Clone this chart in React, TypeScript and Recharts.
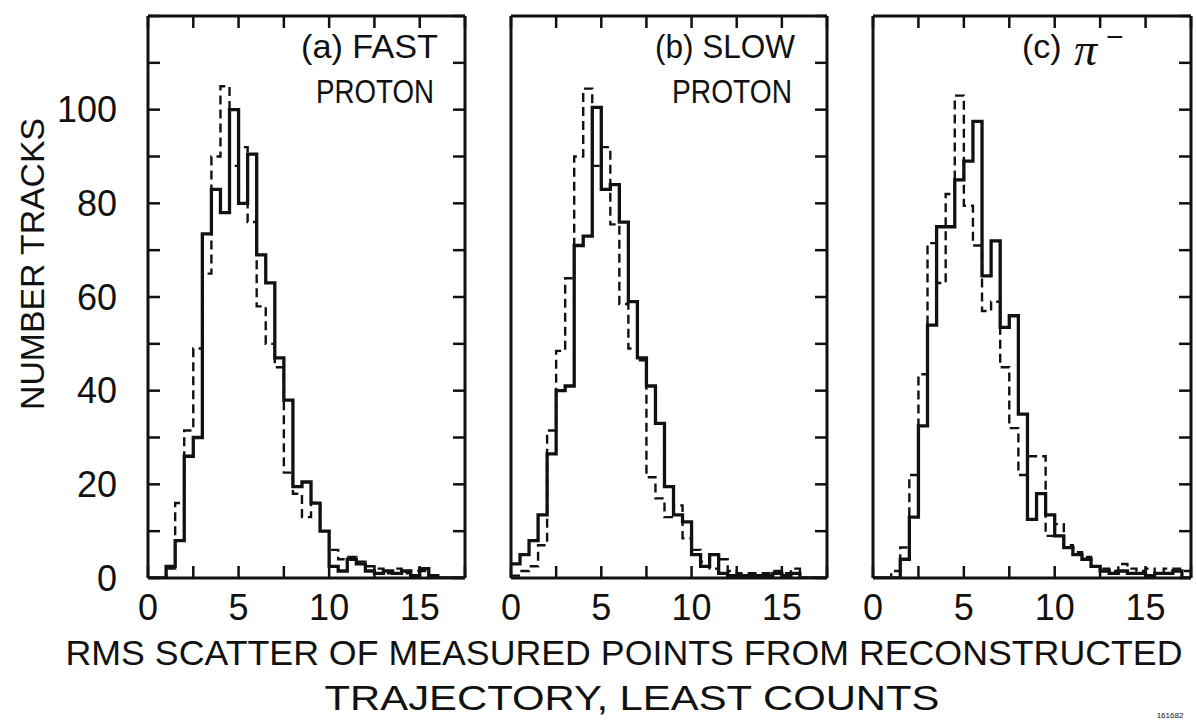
import { ComposedChart, Line, XAxis, YAxis } from "recharts";

// Three step histograms of RMS scatter (least counts), solid vs dashed sample.
const FONT = '"Liberation Sans", Arial, sans-serif';
const INK = "#111";

const BIN_EDGE = [
  0, 0.5, 1, 1.5, 2, 2.5, 3, 3.5, 4, 4.5, 5, 5.5, 6, 6.5, 7, 7.5, 8, 8.5,
  9, 9.5, 10, 10.5, 11, 11.5, 12, 12.5, 13, 13.5, 14, 14.5, 15, 15.5, 16, 16.5, 17, 17.5,
];
const X_TICKS = [0, 2.5, 5, 7.5, 10, 12.5, 15, 17.5];
const X_LABELS = [0, 5, 10, 15];
const Y_TICKS = [0, 10, 20, 30, 40, 50, 60, 70, 80, 90, 100, 110, 120];
const Y_LABELS = [0, 20, 40, 60, 80, 100];

// (a) fast proton
const A_SOLID = [0, 0, 2.5, 8, 26, 30, 73.5, 83, 78, 100, 80, 90.5, 69, 63, 47, 38, 19.5, 20.5, 16, 10, 2.5, 1.5, 4, 3, 1.5, 1, 1.5, 1, 1.5, 0.5, 2, 0.5, 0, 0, 0, 0];
const A_DASHED = [0, 0, 2, 16, 31.5, 49, 65, 90, 105, 88, 92, 76, 58, 50, 45, 22.5, 18, 13, 16, 10, 6, 4, 4.5, 3.5, 2.5, 2, 1, 2, 1, 1.5, 1.5, 0.5, 0, 0, 0, 0];
// (b) slow proton
const B_SOLID = [3, 5, 8, 13.5, 26.5, 40, 41, 71, 73, 100.5, 83, 84, 76, 59, 47, 41, 33, 19.5, 13.5, 12, 5, 2.5, 5, 1, 0.5, 0.5, 0.5, 0.5, 0.5, 1, 0.5, 1, 0, 0, 0, 0];
const B_DASHED = [0.5, 1.5, 2.5, 7, 31.5, 48.5, 64, 90, 104.5, 88, 92, 75.5, 58.5, 49, 46.5, 21.5, 17, 13, 15.5, 8.5, 6, 3.5, 2, 4, 1.5, 1, 1, 1, 1, 1.5, 1, 2, 0, 0, 0, 0];
// (c) pi-
const C_SOLID = [0, 0, 0, 4, 13, 32.5, 54, 75, 75, 85, 89, 97.5, 64.5, 72, 53.5, 56, 35, 12.5, 18, 13.5, 9, 6.5, 5, 4, 2.5, 1.5, 1, 1.5, 1, 1, 0.5, 1, 1, 1.5, 0, 0];
const C_DASHED = [0, 0, 1.5, 6.5, 22, 43.5, 71.5, 63, 82, 103, 79.5, 71, 57, 59, 45, 32, 22, 26, 26, 9, 11.5, 7, 5.5, 4.5, 2.5, 2, 1.5, 3, 2, 1.5, 2, 1, 2, 2, 1.5, 0];

const XTick = (props: any) => {
  const { x, y, payload } = props;
  if (!X_LABELS.includes(payload.value)) return <g />;
  return (
    <text x={x} y={y} textAnchor="middle" dominantBaseline="central" fontSize={36} fontFamily={FONT} fill={INK}>
      {payload.value}
    </text>
  );
};

const YTick = (props: any) => {
  const { x, y, payload } = props;
  if (!Y_LABELS.includes(payload.value)) return <g />;
  return (
    <text x={x} y={y} textAnchor="end" dominantBaseline="central" fontSize={36} fontFamily={FONT} fill={INK}>
      {payload.value}
    </text>
  );
};

const blank = () => "";

function Panel({
  left,
  width,
  padL,
  padR,
  solid,
  dashed,
  yLabels,
}: {
  left: number;
  width: number;
  padL: number;
  padR: number;
  solid: number[];
  dashed: number[];
  yLabels: boolean;
}) {
  const data = BIN_EDGE.map((x, i) => ({ x, solid: solid[i], dashed: dashed[i] }));
  const axisLine = { stroke: INK, strokeWidth: 3 };
  const tickLine = { stroke: INK, strokeWidth: 2.5 };
  // all four axes are mirrored so their ticks point into the frame
  return (
    <div style={{ position: "absolute", left, top: 0 }}>
      <ComposedChart width={width} height={640} data={data} margin={{ top: 16, right: padR, bottom: 62, left: padL }}>
        <XAxis xAxisId="b" dataKey="x" type="number" domain={[0, 17.5]} ticks={X_TICKS} interval={0} mirror
          height={10} tickSize={12} tickMargin={-41} tick={<XTick />} axisLine={axisLine} tickLine={tickLine} allowDataOverflow />
        <XAxis xAxisId="t" dataKey="x" orientation="top" type="number" domain={[0, 17.5]} ticks={X_TICKS} interval={0} mirror
          height={10} tickSize={12} tickFormatter={blank} axisLine={axisLine} tickLine={tickLine} allowDataOverflow />
        <YAxis yAxisId="l" type="number" domain={[0, 120]} ticks={Y_TICKS} interval={0} mirror width={10}
          tickSize={12} tickMargin={-43} tick={yLabels ? <YTick /> : false} axisLine={axisLine} tickLine={tickLine} allowDataOverflow />
        <YAxis yAxisId="r" orientation="right" type="number" domain={[0, 120]} ticks={Y_TICKS} interval={0} mirror width={10}
          tickSize={12} tickFormatter={blank} axisLine={axisLine} tickLine={tickLine} allowDataOverflow />
        <Line xAxisId="t" yAxisId="r" type="stepAfter" dataKey="dashed" stroke={INK} strokeWidth={2.4}
          strokeDasharray="9 5" dot={false} activeDot={false} isAnimationActive={false} />
        <Line xAxisId="b" yAxisId="l" type="stepAfter" dataKey="solid" stroke={INK} strokeWidth={3.3}
          dot={false} activeDot={false} isAnimationActive={false} />
      </ComposedChart>
    </div>
  );
}

const textStyle = { fontFamily: FONT, fill: INK };

export default function App() {
  return (
    <div style={{ position: "absolute", left: 0, top: 0, width: 1197, height: 727, background: "#fff", overflow: "hidden" }}>
      <Panel left={0} width={480} padL={148} padR={15} solid={A_SOLID} dashed={A_DASHED} yLabels />
      <Panel left={491} width={351} padL={20} padR={15} solid={B_SOLID} dashed={B_DASHED} yLabels={false} />
      <Panel left={853} width={343} padL={20} padR={5} solid={C_SOLID} dashed={C_DASHED} yLabels={false} />
      <svg width={1197} height={727} style={{ position: "absolute", left: 0, top: 0, pointerEvents: "none" }}>
        <text x={32} y={264} transform="rotate(-90 32 264)" textAnchor="middle" dominantBaseline="central"
          fontSize={34} textLength={292} lengthAdjust="spacingAndGlyphs" {...textStyle}>NUMBER TRACKS</text>
        <text x={301} y={46} dominantBaseline="central" fontSize={34} textLength={137} lengthAdjust="spacingAndGlyphs" {...textStyle}>(a) FAST</text>
        <text x={316} y={91} dominantBaseline="central" fontSize={34} textLength={118} lengthAdjust="spacingAndGlyphs" {...textStyle}>PROTON</text>
        <text x={655} y={46} dominantBaseline="central" fontSize={34} textLength={140} lengthAdjust="spacingAndGlyphs" {...textStyle}>(b) SLOW</text>
        <text x={672} y={91} dominantBaseline="central" fontSize={34} textLength={120} lengthAdjust="spacingAndGlyphs" {...textStyle}>PROTON</text>
        <text x={1022} y={46} dominantBaseline="central" fontSize={34} {...textStyle}>(c)</text>
        <text x={1074} y={49} dominantBaseline="central" fontSize={46} fontStyle="italic" fontFamily='"Liberation Serif", serif' fill={INK}>π</text>
        <text x={1106} y={36} dominantBaseline="central" fontSize={30} {...textStyle}>−</text>
        <text x={624} y={652} textAnchor="middle" dominantBaseline="central" fontSize={35} textLength={1117} lengthAdjust="spacingAndGlyphs" {...textStyle}>
          RMS SCATTER OF MEASURED POINTS FROM RECONSTRUCTED
        </text>
        <text x={632} y={697} textAnchor="middle" dominantBaseline="central" fontSize={35} textLength={615} lengthAdjust="spacingAndGlyphs" {...textStyle}>
          TRAJECTORY, LEAST COUNTS
        </text>
        <text x={1170} y={715} textAnchor="middle" dominantBaseline="central" fontSize={8} {...textStyle}>161682</text>
      </svg>
    </div>
  );
}
